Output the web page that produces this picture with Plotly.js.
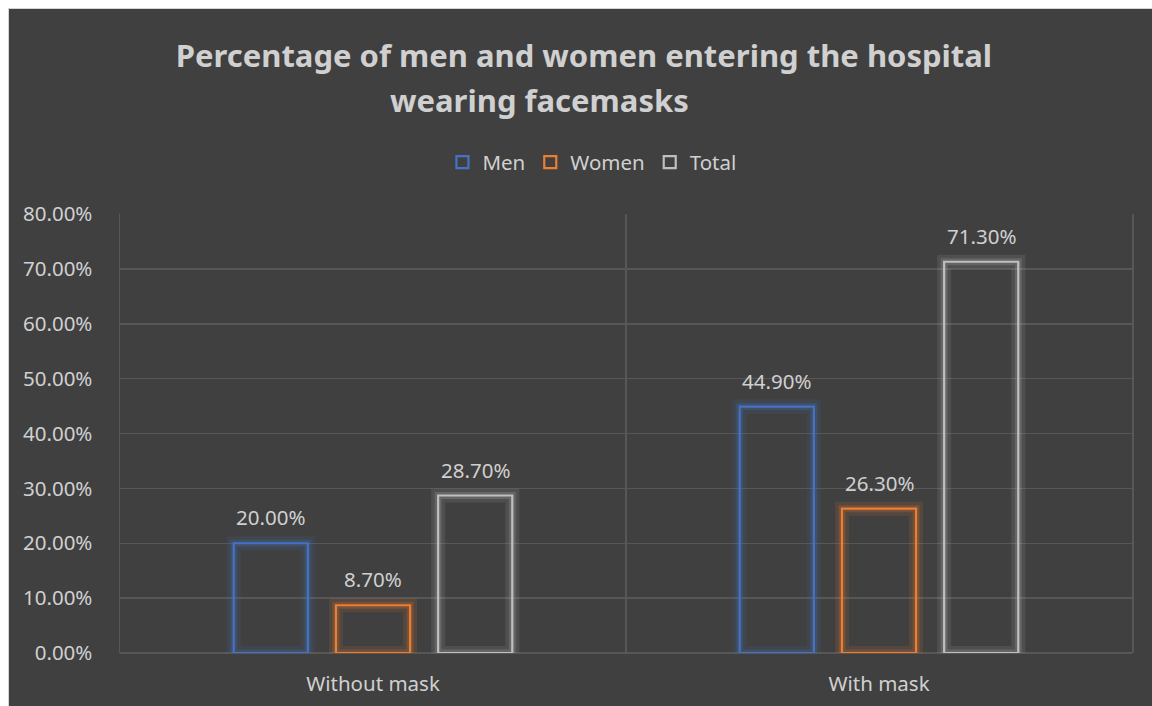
<!DOCTYPE html>
<html><head><meta charset="utf-8">
<script src="https://cdn.plot.ly/plotly-3.0.1.min.js"></script>
<style>
html,body{margin:0;padding:0;background:#ffffff;width:1152px;height:706px;overflow:hidden;}
#chart{position:absolute;left:8px;top:8px;width:1144px;height:698px;border-left:1px solid #d4d4d4;border-top:1px solid #d4d4d4;box-sizing:border-box;}
</style></head>
<body><div id="chart"></div>
<script>
const categories = ['Without mask', 'With mask'];
const seriesNames = ['Men', 'Women', 'Total'];
const menValues = [0.200, 0.449];
const womenValues = [0.087, 0.263];
const totalValues = [0.287, 0.713];
const yTickValues = [0, 0.1, 0.2, 0.3, 0.4, 0.5, 0.6, 0.7, 0.8];
const titleLine1 = 'Percentage of men and women entering the hospital';
const titleLine2 = 'wearing facemasks';

const colors = ['#4472c4', '#ed7d31', '#bfbfbf'];
const glowOuter = ['rgba(68,114,196,0.12)', 'rgba(237,125,49,0.12)', 'rgba(191,191,191,0.12)'];
const glowInner = ['rgba(68,114,196,0.2)', 'rgba(237,125,49,0.2)', 'rgba(191,191,191,0.2)'];
const values = [menValues, womenValues, totalValues];
const barW = 0.1465;
const centers = [-0.202, 0, 0.202];
const textColor = '#d0d0d0';
const FONT = 'Noto Sans, sans-serif';

const traces = [];
[[glowOuter, 14], [glowInner, 7]].forEach(([g, w]) => {
  values.forEach((v, i) => {
    traces.push({
      type: 'bar', x: categories, y: v, showlegend: false, hoverinfo: 'skip',
      width: barW, offset: centers[i] - barW / 2,
      marker: {color: 'rgba(0,0,0,0)', line: {color: g[i], width: w}}
    });
  });
});
values.forEach((v, i) => {
  traces.push({
    type: 'bar', x: categories, y: v, name: seriesNames[i],
    width: barW, offset: centers[i] - barW / 2,
    marker: {color: 'rgba(64,64,64,0)', line: {color: colors[i], width: 2.2}}
  });
});

const annotations = [];
values.forEach((v, i) => {
  v.forEach((d, j) => {
    annotations.push({
      x: j + centers[i], y: d, xref: 'x', yref: 'y',
      text: (d * 100).toFixed(2) + '%', showarrow: false,
      yanchor: 'bottom', yshift: 10,
      font: {size: 20.5, color: textColor, family: FONT}
    });
  });
});
annotations.push({
  x: 0.415, y: 1.2597, xref: 'paper', yref: 'paper', showarrow: false,
  text: '<b>' + titleLine2 + '</b>', xanchor: 'center', yanchor: 'middle',
  font: {size: 31, color: textColor, family: FONT}
});

const layout = {
  width: 1143, height: 697,
  paper_bgcolor: '#404040', plot_bgcolor: '#404040',
  font: {family: FONT, color: textColor},
  barmode: 'overlay',
  margin: {l: 111, r: 20, t: 205, b: 53},
  title: {
    text: '<b>' + titleLine1 + '</b>',
    font: {size: 31, color: textColor, family: FONT},
    x: 0.503, xanchor: 'center', xref: 'container',
    y: 0.932, yanchor: 'middle', yref: 'container'
  },
  annotations: annotations,
  legend: {
    orientation: 'h', x: 0.51, xanchor: 'center', xref: 'container',
    y: 0.78, yanchor: 'middle', yref: 'container',
    font: {size: 20.5, color: textColor}, itemwidth: 30, traceorder: 'normal'
  },
  xaxis: {
    type: 'category', range: [-0.5, 1.5], tickson: 'boundaries',
    showgrid: true, gridcolor: '#575757', gridwidth: 1.5,
    ticks: '', showline: false, zeroline: false, ticklabelstandoff: 16,
    tickfont: {size: 20.5, color: textColor}
  },
  yaxis: {
    range: [0, 0.8], tickvals: yTickValues, tickformat: '.2%',
    showgrid: true, gridcolor: '#575757', gridwidth: 1.5,
    zeroline: true, zerolinecolor: '#575757', zerolinewidth: 1.5,
    showline: true, mirror: true, linecolor: '#575757', linewidth: 1.5,
    ticks: '', ticklabelstandoff: 22, tickfont: {size: 20.5, color: textColor}, automargin: false
  },
  showlegend: true
};
Plotly.newPlot('chart', traces, layout, {displayModeBar: false, staticPlot: true});
</script></body></html>
